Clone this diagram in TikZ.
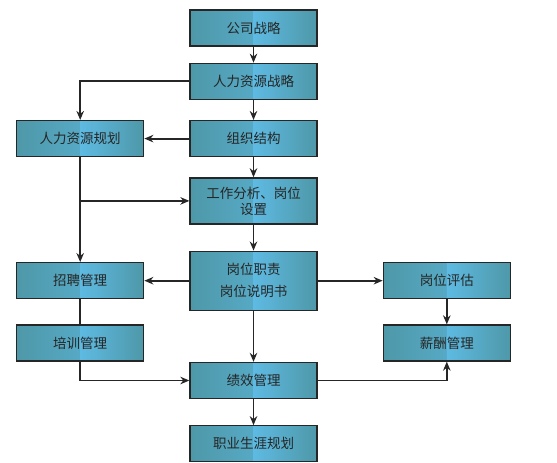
\documentclass[tikz,border=0pt]{standalone}
\usepackage{fontspec}
\setmainfont{Noto Sans CJK SC}
\usepackage{tikz}
\usetikzlibrary{arrows.meta,positioning}
\definecolor{tealedge}{RGB}{78,152,168}
\definecolor{skymid}{RGB}{94,186,226}
\definecolor{darkline}{HTML}{262626}
\tikzset{
  kuang/.style={
    draw=darkline,
    line width=1.3pt,
    fill=tealedge,
    path picture={
      \fill[left color=tealedge, right color=skymid]
        (path picture bounding box.south west) rectangle (path picture bounding box.north);
      \fill[left color=skymid, right color=tealedge]
        (path picture bounding box.south) rectangle (path picture bounding box.north east);
    },
    align=center,
    minimum width=127pt,
    minimum height=36pt,
    inner sep=3pt,
    text=darkline,
    font=\fontsize{13.5}{16}\selectfont
  },
  arrow/.style={
    -{Stealth[length=9pt,width=7.5pt]},
    line width=1.8pt,
    darkline
  },
  plain/.style={
    line width=1.8pt,
    darkline
  }
}
\begin{document}
\begin{tikzpicture}[x=1pt,y=-1pt,node distance=20pt and 45pt]
\useasboundingbox (0,0) rectangle (557,463);
\node[kuang] (gs) at (253.5,28) {公司战略};
\node[kuang, below=16pt of gs] (rlzl) {人力资源战略};
\node[kuang, below=of rlzl] (zz) {组织结构};
\node[kuang, left=of zz] (rlgh) {人力资源规划};
\node[kuang, below=of zz, minimum height=46pt] (gz) {工作分析、岗位\\设置};
\node[kuang, below=26pt of gz, minimum height=59pt] (gw) {岗位职责\\[6pt]岗位说明书};

\node[kuang, left=of gw] (zp) {招聘管理};
\node[kuang, right=65pt of gw] (pg) {岗位评估};
\node[kuang, below=25pt of zp] (px) {培训管理};
\node[kuang, below=25pt of pg] (xc) {薪酬管理};
\node[kuang, below=51pt of gw] (jx) {绩效管理};
\node[kuang, below=26pt of jx] (zy) {职业生涯规划};

\draw[arrow] (gs) -- (rlzl);
\draw[arrow] (rlzl) -- (zz);
\draw[arrow] (rlzl.west) -| (rlgh.north);
\draw[arrow] (zz) -- (rlgh);
\draw[arrow] (zz) -- (gz);
\draw[arrow] (rlgh) -- (zp);
\draw[arrow] (rlgh.south |- gz.west) -- (gz.west);
\draw[arrow] (gz) -- (gw);
\draw[arrow] (gw) -- (zp);
\draw[arrow] (gw) -- (pg);
\draw[arrow] (pg) -- (xc);
\draw[plain] (zp) -- (px);
\draw[arrow] (px.south) |- (jx.west);
\draw[arrow] (gw) -- (jx);
\draw[arrow] (jx.east) -| (xc.south);
\draw[arrow] (jx) -- (zy);
\end{tikzpicture}
\end{document}
